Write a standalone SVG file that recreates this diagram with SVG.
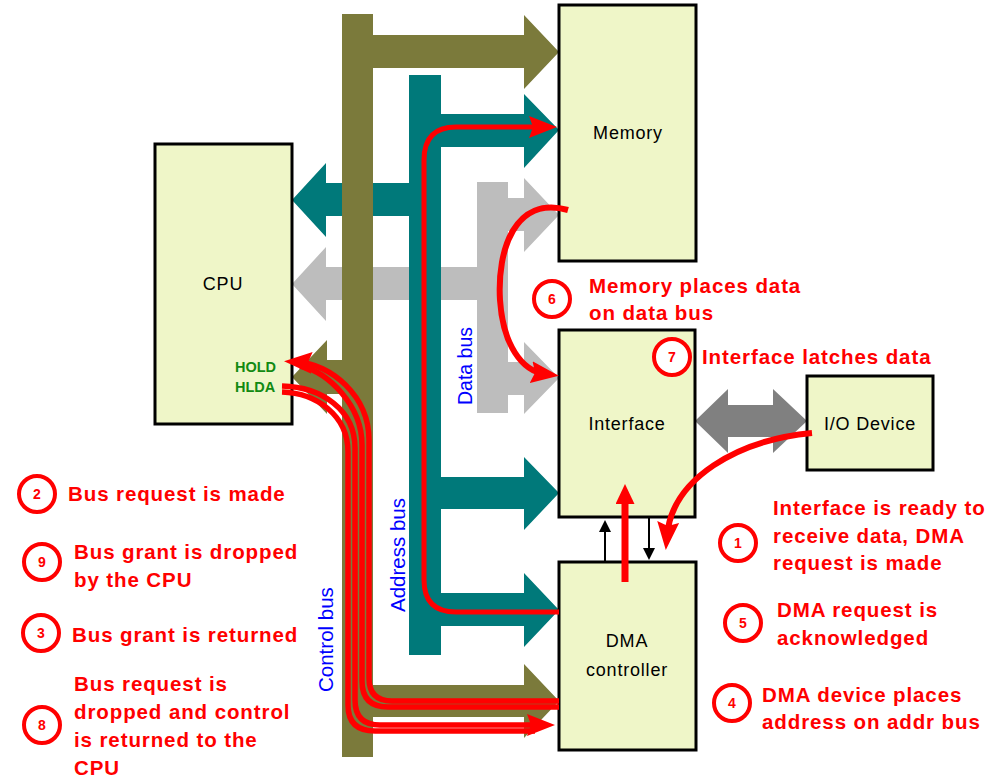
<svg xmlns="http://www.w3.org/2000/svg" width="1004" height="779" viewBox="0 0 1004 779">
<style>
.box{fill:#eff6c8;stroke:#000;stroke-width:3}
.lbl{font-family:"Liberation Sans",Arial,sans-serif;font-size:18px;fill:#000;text-anchor:middle;letter-spacing:0.8px}
.note{font-family:"Liberation Sans",Arial,sans-serif;font-size:20.5px;font-weight:bold;fill:#ff0000;letter-spacing:0.9px}
.bus{font-family:"Liberation Sans",Arial,sans-serif;font-size:20px;fill:#0000ff}
.sig{font-family:"Liberation Sans",Arial,sans-serif;font-size:14.5px;font-weight:bold;fill:#128a12}
.num circle{fill:#fff;stroke:#ff0000;stroke-width:4}
.num text{font-family:"Liberation Sans",Arial,sans-serif;font-size:14px;font-weight:bold;fill:#ff0000;text-anchor:middle}
.red{fill:none;stroke:#ff0000;stroke-width:5}
.ctl{fill:none;stroke:#ff0000;stroke-width:5.5}
.thin{fill:none;stroke:#000;stroke-width:2}
</style>
<defs>
<marker id="rh" markerUnits="userSpaceOnUse" markerWidth="28" markerHeight="22" refX="14" refY="11" orient="auto" viewBox="0 0 28 22">
<path d="M0,0 L28,11 L0,22 L4,11 z" fill="#ff0000"/>
</marker>
<marker id="rs" markerUnits="userSpaceOnUse" markerWidth="20" markerHeight="19" refX="8" refY="9.5" orient="auto" viewBox="0 0 20 19">
<path d="M0,0 L20,9.5 L0,19 z" fill="#ff0000"/>
</marker>
<marker id="bh" markerUnits="userSpaceOnUse" markerWidth="12" markerHeight="12" refX="2" refY="6" orient="auto" viewBox="0 0 12 12">
<path d="M0,0 L12,6 L0,12 z" fill="#000"/>
</marker>
</defs>
<rect width="1004" height="779" fill="#fff"/>

<g id="buses">
<polygon id="data-bus" fill="#bdbdbd" points="477,182 508,182 508,198 524,198 524,178 559,215 524,252 524,231 508,231 508,362 524,362 524,342 559,378 524,414 524,395 508,395 508,413 477,413 477,300 326,300 326,321 292,284 326,247 326,267 477,267"/>
<polygon id="address-bus" fill="#00797a" points="409,75 441,75 441,114 524,114 524,94 559,130 524,168 524,147 441,147 441,477 524,477 524,457 559,493 524,530 524,509 441,509 441,593 524,593 524,573 559,610 524,647 524,626 441,626 441,655 409,655 409,216 326,216 326,237 292,200 326,163 326,183 409,183"/>
<polygon id="control-bus" fill="#7b7a3b" points="342,14 373,14 373,35 524,35 524,15 559,52 524,89 524,68 373,68 373,685 524,685 524,664 559,701 524,738 524,717 373,717 373,757 342,757 342,394 327,394 327,414 292,377 327,340 327,360 342,360"/>
<polygon id="io-link" fill="#808080" points="695,421 728,389 728,405 773,405 773,389 807,421 773,453 773,437 728,437 728,453"/>
</g>

<g id="cpu"><rect class="box" x="155" y="144" width="137" height="280"/><text class="lbl" x="223" y="290">CPU</text>
<text class="sig" x="235" y="372">HOLD</text><text class="sig" x="235" y="392">HLDA</text></g>
<g id="memory"><rect class="box" x="559" y="5" width="137" height="256"/><text class="lbl" x="628" y="139">Memory</text></g>
<g id="interface"><rect class="box" x="559" y="330" width="136" height="187"/><text class="lbl" x="627" y="430">Interface</text></g>
<g id="dma"><rect class="box" x="559" y="562" width="137" height="188"/><text class="lbl" x="627" y="647">DMA</text><text class="lbl" x="627" y="676">controller</text></g>
<g id="io"><rect class="box" x="807" y="376" width="126" height="94"/><text class="lbl" x="870" y="430">I/O Device</text></g>

<g id="connectors">
<line class="thin" x1="605" y1="562" x2="605" y2="530" marker-end="url(#bh)"/>
<line class="thin" x1="649" y1="517" x2="649" y2="550" marker-end="url(#bh)"/>
<path class="red" d="M559,612 H456 Q424,612 424,580 V160 Q424,127 456,127 H543" marker-end="url(#rh)"/>
<path class="red" style="stroke-width:6" d="M568,210 C515,195 497,250 500,300 C503,345 522,371 545,374" marker-end="url(#rh)"/>
<path class="red" style="stroke-width:6" d="M812,433 C738,440 672,478 667,536" marker-end="url(#rh)"/>
<path class="red" style="stroke-width:7" d="M625,582 V496" marker-end="url(#rs)"/>
<path class="ctl" d="M559,707 H388 Q362,707 362,681 V445 C362,405 328,372 300,366"/>
<path class="ctl" d="M559,701 H392 Q369,701 369,678 V440 C369,395 330,364 298,362" marker-end="url(#rh)"/>
<path class="ctl" d="M282,392 C316,393 348,415 348,452 V705 Q348,731 375,731 H535"/>
<path class="ctl" d="M282,386 C322,387 355,410 355,448 V700 Q355,725 380,725 H541" marker-end="url(#rh)"/>
</g>

<g id="bus-labels">
<text class="bus" style="font-size:19.5px" transform="translate(472,405) rotate(-90)">Data bus</text>
<text class="bus" style="font-size:20.5px" transform="translate(405,612) rotate(-90)">Address bus</text>
<text class="bus" style="font-size:20.5px" transform="translate(333,692) rotate(-90)">Control bus</text>
</g>

<g id="step-1" class="num"><circle cx="738" cy="543" r="18"/><text x="738" y="548">1</text></g>
<g id="step-2" class="num"><circle cx="37" cy="494" r="18"/><text x="37" y="499">2</text></g>
<g id="step-3" class="num"><circle cx="41" cy="633" r="18"/><text x="41" y="638">3</text></g>
<g id="step-4" class="num"><circle cx="732" cy="703" r="18"/><text x="732" y="708">4</text></g>
<g id="step-5" class="num"><circle cx="743" cy="623" r="18"/><text x="743" y="628">5</text></g>
<g id="step-6" class="num"><circle cx="552" cy="299" r="18"/><text x="552" y="304">6</text></g>
<g id="step-7" class="num"><circle cx="672" cy="357" r="18"/><text x="672" y="362">7</text></g>
<g id="step-8" class="num"><circle cx="42" cy="725" r="18"/><text x="42" y="730">8</text></g>
<g id="step-9" class="num"><circle cx="42" cy="562" r="18"/><text x="42" y="567">9</text></g>

<g id="notes">
<text class="note" x="68" y="501">Bus request is made</text>
<text class="note" x="74" y="559">Bus grant is dropped</text>
<text class="note" x="74" y="587">by the CPU</text>
<text class="note" x="72" y="642">Bus grant is returned</text>
<text class="note" x="74" y="691">Bus request is</text>
<text class="note" x="74" y="719">dropped and control</text>
<text class="note" x="74" y="747">is returned to the</text>
<text class="note" x="74" y="775">CPU</text>
<text class="note" x="773" y="515">Interface is ready to</text>
<text class="note" x="773" y="543">receive data, DMA</text>
<text class="note" x="773" y="570">request is made</text>
<text class="note" x="777" y="617">DMA request is</text>
<text class="note" x="777" y="645">acknowledged</text>
<text class="note" x="762" y="702">DMA device places</text>
<text class="note" x="762" y="729">address on addr bus</text>
<text class="note" x="589" y="293">Memory places data</text>
<text class="note" x="589" y="320">on data bus</text>
<text class="note" x="702" y="364">Interface latches data</text>
</g>
</svg>
